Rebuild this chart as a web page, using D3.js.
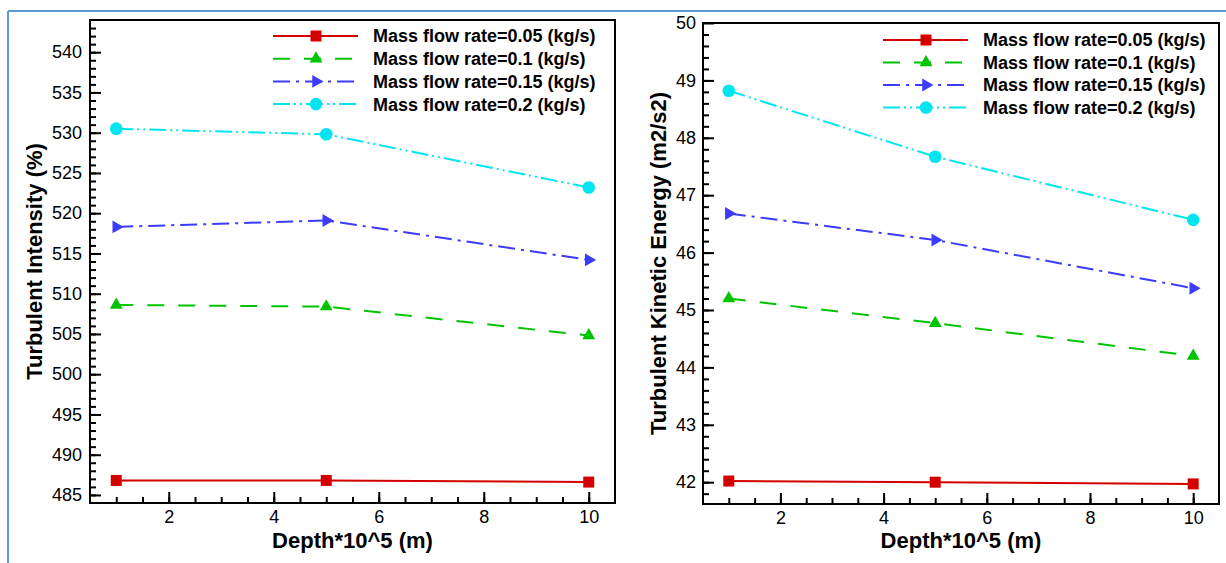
<!DOCTYPE html>
<html>
<head>
<meta charset="utf-8">
<script src="https://cdn.jsdelivr.net/npm/d3@7"></script>
<style>
  body { margin: 0; background: #fff; }
  svg { display: block; font-family: 'Liberation Sans', Arial, sans-serif; }
</style>
</head>
<body>
<div id="chart"></div>
<script>
// data
let depth = [1, 5, 10]
let seriesNames = [
  'Mass flow rate=0.05 (kg/s)',
  'Mass flow rate=0.1 (kg/s)',
  'Mass flow rate=0.15 (kg/s)',
  'Mass flow rate=0.2 (kg/s)'
]
let intensity005 = [486.8, 486.8, 486.6]
let intensity01 = [508.6, 508.4, 504.8]
let intensity015 = [518.3, 519.1, 514.2]
let intensity02 = [530.5, 529.8, 523.2]

let tke005 = [42.02, 42.0, 41.97]
let tke01 = [45.2, 44.77, 44.2]
let tke015 = [46.68, 46.22, 45.38]
let tke02 = [48.82, 47.67, 46.57]

let xTicks = [2, 4, 6, 8, 10]
let intensityTicks = [485, 490, 495, 500, 505, 510, 515, 520, 525, 530, 535, 540]
let tkeTicks = [42, 43, 44, 45, 46, 47, 48, 49, 50]

let width = 1226
let height = 563

let colors = ['#d40000', '#00c400', '#3c3cff', '#00e6f0']
let dashes = [null, '17,14', '17,6,3,6', '17,4,2,4,2,4']
let shapes = ['square', 'triangle', 'right', 'circle']

let svg = d3
  .select('#chart')
  .append('svg')
  .attr('width', width)
  .attr('height', height)

// light blue frame around the figure
svg.append('line')
  .attr('x1', 8).attr('x2', width).attr('y1', 11).attr('y2', 11)
  .attr('stroke', '#5b9bd5').attr('stroke-width', 2)
svg.append('line')
  .attr('x1', 8).attr('x2', 8).attr('y1', 11).attr('y2', height)
  .attr('stroke', '#5b9bd5').attr('stroke-width', 2)

function markerPath(shape) {
  if (shape === 'square') return d3.symbol(d3.symbolSquare, 121)()
  if (shape === 'circle') return d3.symbol(d3.symbolCircle, 125)()
  return d3.symbol(d3.symbolTriangle, 72)()
}

function drawMarker(g, shape, color) {
  g.append('path')
    .attr('d', markerPath(shape))
    .attr('fill', color)
    .attr('transform', shape === 'right' ? 'rotate(90)' : null)
}

function drawPanel(p) {
  let g = svg.append('g').attr('transform', `translate(${p.left},${p.top})`)
  let w = p.right - p.left
  let h = p.bottom - p.top

  let x = d3.scaleLinear().domain([0.5, 10.5]).range([0, w])
  let y = d3.scaleLinear().domain(p.yDomain).range([h, 0])

  // minor ticks
  g.append('g')
    .attr('transform', `translate(0,${h})`)
    .call(d3.axisBottom(x).tickValues(d3.range(1, 10.01, 0.5)).tickSize(-6).tickFormat(''))
  g.append('g')
    .call(d3.axisLeft(y).tickValues(p.yMinor).tickSize(-6).tickFormat(''))

  // major ticks
  g.append('g')
    .attr('class', 'xaxis')
    .attr('transform', `translate(0,${h})`)
    .call(d3.axisBottom(x).tickValues(xTicks).tickSize(-11).tickPadding(7).tickFormat(d3.format('d')))
  g.append('g')
    .attr('class', 'yaxis')
    .call(d3.axisLeft(y).tickValues(p.yTicks).tickSize(-11).tickPadding(p.yPad).tickFormat(d3.format('d')))

  g.selectAll('.domain').remove()
  g.selectAll('.tick line').attr('stroke', '#000').attr('stroke-width', 2)
  g.selectAll('.tick text')
    .attr('font-size', 18)
    .attr('font-family', 'Liberation Sans, Arial, sans-serif')
    .attr('fill', '#000')

  g.append('rect')
    .attr('width', w)
    .attr('height', h)
    .attr('fill', 'none')
    .attr('stroke', '#000')
    .attr('stroke-width', 2)

  let line = d3.line().x((d, i) => x(depth[i])).y(d => y(d))

  p.series.forEach((vals, k) => {
    g.append('path')
      .datum(vals)
      .attr('d', line)
      .attr('fill', 'none')
      .attr('stroke', colors[k])
      .attr('stroke-width', 2)
      .attr('stroke-dasharray', dashes[k])

    vals.forEach((v, i) => {
      let m = g.append('g').attr('transform', `translate(${x(depth[i])},${y(v)})`)
      drawMarker(m, shapes[k], colors[k])
    })
  })

  // legend
  let legend = svg.append('g').attr('transform', `translate(${p.legendX},${p.legendY})`)
  legend
    .selectAll('.legend-entry')
    .data(seriesNames)
    .enter()
    .append('g')
    .attr('class', 'legend-entry')
    .attr('transform', (d, i) => `translate(0,${i * p.legendStep})`)
    .each(function(d, i) {
      let e = d3.select(this)
      e.append('line')
        .attr('x1', 0).attr('x2', 85)
        .attr('stroke', colors[i])
        .attr('stroke-width', 2)
        .attr('stroke-dasharray', dashes[i])
      let m = e.append('g').attr('transform', 'translate(43,0)')
      drawMarker(m, shapes[i], colors[i])
      e.append('text')
        .text(d)
        .attr('x', 100)
        .attr('dy', '0.36em')
        .attr('font-size', 18)
        .attr('font-weight', 'bold')
    })

  // axis titles
  svg.append('text')
    .text('Depth*10^5 (m)')
    .attr('x', (p.left + p.right) / 2)
    .attr('y', 548)
    .attr('text-anchor', 'middle')
    .attr('font-size', 22)
    .attr('font-weight', 'bold')

  svg.append('text')
    .text(p.yTitle)
    .attr('transform', `translate(${p.yTitleX},${(p.top + p.bottom) / 2}) rotate(-90)`)
    .attr('text-anchor', 'middle')
    .attr('font-size', 22)
    .attr('font-weight', 'bold')
}

drawPanel({
  left: 90, right: 615, top: 20, bottom: 503,
  yDomain: [484, 544],
  yTicks: intensityTicks,
  yMinor: d3.range(485, 543.5, 1),
  yPad: 8,
  series: [intensity005, intensity01, intensity015, intensity02],
  yTitle: 'Turbulent Intensity (%)',
  yTitleX: 42,
  legendX: 273, legendY: 36, legendStep: 22.7
})

drawPanel({
  left: 703, right: 1219, top: 23, bottom: 504,
  yDomain: [41.62, 50],
  yTicks: tkeTicks,
  yMinor: d3.range(41.8, 49.9, 0.2),
  yPad: 7,
  series: [tke005, tke01, tke015, tke02],
  yTitle: 'Turbulent Kinetic Energy (m2/s2)',
  yTitleX: 666,
  legendX: 883, legendY: 40, legendStep: 22.5
})
</script>
</body>
</html>
